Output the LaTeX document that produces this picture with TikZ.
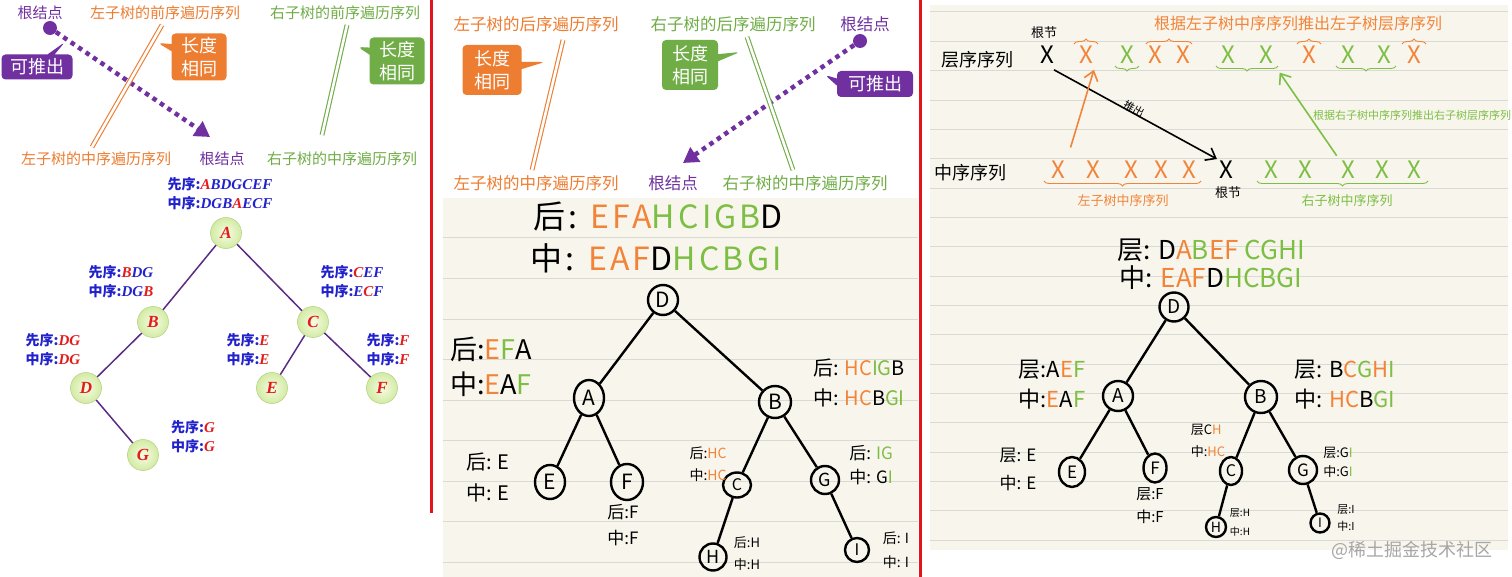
\documentclass[tikz,border=0pt]{standalone}
\usepackage{fontspec}
\setmainfont{Noto Sans CJK SC}
\newfontfamily\serifbi{Liberation Serif}
\newfontfamily\spreadfont[LetterSpace=10]{Noto Sans CJK SC}
\usepackage{xcolor}
\usepackage{tikz}
\usetikzlibrary{arrows.meta,calc,decorations.pathreplacing,shapes.geometric,shapes.callouts,positioning}

\definecolor{pptorange}{HTML}{ED7D31}
\definecolor{pptgreen}{HTML}{70AD47}
\definecolor{pptpurple}{HTML}{7030A0}
\definecolor{lblue}{HTML}{2222CC}
\definecolor{lred}{HTML}{E31B1B}
\definecolor{ledge}{HTML}{5B2C83}
\definecolor{lnodein}{HTML}{F6FCE4}
\definecolor{lnodeout}{HTML}{D3EBA4}
\definecolor{lnodeline}{HTML}{B9D58A}
\definecolor{handorange}{HTML}{F2843A}
\definecolor{handgreen}{HTML}{7DBE45}
\definecolor{paper}{HTML}{F8F6EC}
\definecolor{ruleline}{HTML}{DADAD4}
\definecolor{rulered}{HTML}{E3141C}

\newcommand{\fsz}[2]{\fontsize{#1}{#2}\selectfont}
\newcommand{\torg}[1]{\textcolor{handorange}{#1}}
\newcommand{\tgrn}[1]{\textcolor{handgreen}{#1}}
\newcommand{\tred}[1]{\textcolor{lred}{#1}}
\newcommand{\lett}[1]{{\serifbi\bfseries\itshape\fsz{15}{19}#1}}

\begin{document}
\begin{tikzpicture}[x=1pt, y=-1pt, >=Stealth,
  ptext/.style={inner sep=1, font=\fsz{15}{15}},
  mtext/.style={inner sep=1, font=\fsz{16.5}{16.5}},
  tagbox/.style={rectangle callout, rounded corners=4, text=white, align=center,
    inner sep=2, font=\fsz{18}{23}},
  pdots/.style={pptpurple, line width=4.5, dash pattern=on 4.5 off 4.5,
    -{Triangle[length=15,width=17]}},
  twoline/.style={double=white, double distance=2.6, line width=1.1},
  lnode/.style={circle, minimum size=31, inner sep=0, draw=lnodeline, line width=0.6,
    inner color=lnodein, outer color=lnodeout,
    font=\serifbi\bfseries\itshape\fsz{17}{17}, text=lred},
  ledgeline/.style={ledge, line width=1.5},
  tlab/.style={inner sep=0, align=center, text=lblue, font=\bfseries\fsz{14}{19}},
  hnode/.style={circle, draw=black, line width=2.4, inner sep=0, font=\fsz{21}{21}},
  hell/.style={ellipse, draw=black, line width=2.4, inner sep=0, font=\fsz{21}{21}},
  hedge/.style={black, line width=2.4},
  hlab/.style={inner sep=0, align=left},
  xmark/.style={inner sep=2, font=\fsz{24}{24}},
  obrace/.style={handorange, line width=0.9, decorate, decoration={brace, amplitude=5}},
  gbrace/.style={handgreen, line width=0.9, decorate, decoration={brace, amplitude=5}},
  harrow/.style={line width=1.6, -{Straight Barb[length=9,width=14]}}]

\useasboundingbox (0,0) rectangle (1512,577);
\fill[white] (0,0) rectangle (1512,577);

% =========================================================
% paper backgrounds and red dividers
% =========================================================
\fill[paper] (443,198) rectangle (918,577);
\foreach \k in {0,...,8}
  \draw[ruleline, line width=1] (443,{238+40.5*\k}) -- (918,{238+40.5*\k});
\fill[paper] (930,5) rectangle (1508,550);
\foreach \k in {0,...,18}
  \draw[ruleline, line width=1] (930,{12+29.35*\k}) -- (1508,{12+29.35*\k});
\draw[rulered, line width=3] (431,0) -- (431,513);
\draw[rulered, line width=3] (920,0) -- (920,577);

% =========================================================
% LEFT: preorder + inorder
% =========================================================
\node[ptext, text=pptpurple] (lrootA) at (40,13) {根结点};
\node[ptext, text=pptorange] (lpreL) at (165,13) {左子树的前序遍历序列};
\node[ptext, text=pptgreen] (lpreR) at (345,13) {右子树的前序遍历序列};
\node[ptext, text=pptorange] (linL) at (96,159) {左子树的中序遍历序列};
\node[ptext, text=pptpurple] (lrootB) at (222,159) {根结点};
\node[ptext, text=pptgreen] (linR) at (342,159) {右子树的中序遍历序列};

% root dot and dotted arrow
\node[circle, fill=pptpurple, minimum size=14, inner sep=0] (ldot) at (50,28) {};
\coordinate (ltip) at (210,137);
\draw[pdots] (ldot) -- (ltip);

% equal length marks
\coordinate (lLtop) at (162,25);
\coordinate (lLbot) at (92,147);
\coordinate (lRtop) at (347,25);
\coordinate (lRbot) at (322,135);
\draw[pptorange, twoline] (lLtop) -- (lLbot);
\draw[pptgreen, twoline] (lRtop) -- (lRbot);

% callouts
\node[tagbox, fill=pptpurple, minimum width=71, minimum height=25,
  callout absolute pointer={(65,42)}] (lpush) at (37,67) {可推出};
\node[tagbox, fill=pptorange, minimum width=55, minimum height=47,
  callout absolute pointer={(158,43)}] (llenL) at (199,57) {长度\\相同};
\node[tagbox, fill=pptgreen, minimum width=55, minimum height=47,
  callout absolute pointer={(358,47)}] (llenR) at (397,61) {长度\\相同};

% tree
\node[lnode] (lA) at (226,233) {A};
\node[lnode] (lB) at (153,322) {B};
\node[lnode] (lC) at (313,322) {C};
\node[lnode] (lD) at (86,388) {D};
\node[lnode] (lE) at (272,388) {E};
\node[lnode] (lF) at (382,388) {F};
\node[lnode] (lG) at (143,455) {G};
\draw[ledgeline] (lA) -- (lB);
\draw[ledgeline] (lA) -- (lC);
\draw[ledgeline] (lB) -- (lD);
\draw[ledgeline] (lD) -- (lG);
\draw[ledgeline] (lC) -- (lE);
\draw[ledgeline] (lC) -- (lF);

\node[tlab] (ltA) at (220,193.5) {先序:\lett{\tred{A}BDGCEF}\\中序:\lett{DGB\tred{A}ECF}};
\node[tlab] (ltB) at (121,282) {先序:\lett{\tred{B}DG}\\中序:\lett{DG\tred{B}}};
\node[tlab] (ltC) at (352,282) {先序:\lett{\tred{C}EF}\\中序:\lett{E\tred{C}F}};
\node[tlab] (ltD) at (53,350) {先序:\lett{\tred{DG}}\\中序:\lett{\tred{DG}}};
\node[tlab] (ltE) at (248,350) {先序:\lett{\tred{E}}\\中序:\lett{\tred{E}}};
\node[tlab] (ltF) at (388,350) {先序:\lett{\tred{F}}\\中序:\lett{\tred{F}}};
\node[tlab] (ltG) at (193,437) {先序:\lett{\tred{G}}\\中序:\lett{\tred{G}}};

% =========================================================
% MIDDLE: postorder + inorder
% =========================================================
\node[mtext, text=pptorange] (mpostL) at (536,24) {左子树的后序遍历序列};
\node[mtext, text=pptgreen] (mpostR) at (733,24) {右子树的后序遍历序列};
\node[mtext, text=pptpurple] (mrootA) at (865,24) {根结点};
\node[mtext, text=pptorange] (minL) at (536,183) {左子树的中序遍历序列};
\node[mtext, text=pptpurple] (mrootB) at (673,183) {根结点};
\node[mtext, text=pptgreen] (minR) at (805,183) {右子树的中序遍历序列};

\node[circle, fill=pptpurple, minimum size=14, inner sep=0] (mdot) at (860,41) {};
\coordinate (mtip) at (683,163);
\draw[pdots] (mdot) -- (mtip);

\coordinate (mLtop) at (563,40);
\coordinate (mLbot) at (532,170);
\coordinate (mRtop) at (747,37);
\coordinate (mRbot) at (793,170);
\draw[pptorange, twoline] (mLtop) -- (mLbot);
\draw[pptgreen, twoline] (mRtop) -- (mRbot);

\node[tagbox, fill=pptorange, minimum width=59, minimum height=50,
  callout absolute pointer={(545,62)}] (mlenL) at (492,70) {长度\\相同};
\node[tagbox, fill=pptgreen, minimum width=56, minimum height=50,
  callout absolute pointer={(740,52)}] (mlenR) at (690,65) {长度\\相同};
\node[tagbox, fill=pptpurple, minimum width=76, minimum height=26,
  callout absolute pointer={(825,75)}] (mpush) at (875,84) {可推出};

% sequences
\node[hlab, font=\spreadfont\fsz{32}{32}] (mpost) at (658,217) {后: \torg{EFA}\tgrn{HCIGB}D};
\node[hlab, font=\spreadfont\fsz{32}{32}] (mmid) at (656,258) {中: \torg{EAF}D\tgrn{HCBGI}};

% tree
\node[hnode, minimum size=30] (mD) at (663,300) {D};
\node[hell, minimum width=30, minimum height=36] (mA) at (589,398) {A};
\node[hnode, minimum size=32] (mB) at (775,402) {B};
\node[hell, minimum width=30, minimum height=34] (mE) at (550,482) {E};
\node[hell, minimum width=32, minimum height=36] (mF) at (627,482) {F};
\node[hell, minimum width=28, minimum height=25, font=\fsz{16}{16}] (mC) at (737,485) {C};
\node[hnode, minimum size=28, font=\fsz{18}{18}] (mG) at (825,480) {G};
\node[hnode, minimum size=27, font=\fsz{18}{18}] (mH) at (713,557) {H};
\node[hnode, minimum size=24, font=\fsz{16}{16}] (mI) at (857,550) {I};
\draw[hedge] (mD) -- (mA);
\draw[hedge] (mD) -- (mB);
\draw[hedge] (mA) -- (mE);
\draw[hedge] (mA) -- (mF);
\draw[hedge] (mB) -- (mC);
\draw[hedge] (mB) -- (mG);
\draw[hedge] (mC) -- (mH);
\draw[hedge] (mG) -- (mI);

\node[hlab, font=\fsz{27}{35}] (mlA) at (491,367) {后:\torg{E}\tgrn{F}A\\中:\torg{E}A\tgrn{F}};
\node[hlab, font=\fsz{20}{30}] (mlB) at (859,383) {后: \torg{HC}\tgrn{IG}B\\中: \torg{HC}B\tgrn{GI}};
\node[hlab, font=\fsz{20}{31}] (mlE) at (488,477.5) {后: E\\中: E};
\node[hlab, font=\fsz{17}{26}] (mlF) at (623,525) {后:F\\中:F};
\node[hlab, font=\fsz{14}{22}] (mlC) at (708,464) {后:\torg{HC}\\中:\torg{HC}};
\node[hlab, font=\fsz{17}{24}] (mlG) at (871,465) {后: \tgrn{IG}\\中: G\tgrn{I}};
\node[hlab, font=\fsz{13}{22}] (mlH) at (747,554) {后:H\\中:H};
\node[hlab, font=\fsz{14}{24}] (mlI) at (896,550) {后: I\\中: I};

% =========================================================
% RIGHT: level order + inorder
% =========================================================
\node[hlab, font=\fsz{18}{18}] (rlev) at (977,60) {层序序列};
\node[hlab, font=\fsz{18}{18}] (rin) at (970,173) {中序序列};
\node[hlab, font=\fsz{13}{13}] (rrootA) at (1044,33) {根节};
\node[hlab, font=\fsz{16}{16}, text=handorange] (rtitleL) at (1298,23) {根据左子树中序序列推出左子树层序序列};
\node[hlab, font=\fsz{11}{11}, text=handgreen] (rtitleR) at (1412,115) {根据右子树中序序列推出右子树层序序列};

\foreach \nm/\x/\c in {l1/1047/black, l2/1086/handorange, l3/1127/handgreen,
    l4/1155/handorange, l5/1183/handorange, l6/1228/handgreen, l7/1266/handgreen,
    l8/1309/handorange, l9/1348/handgreen, l10/1384/handgreen, l11/1414/handorange}
  \node[xmark, text=\c] (\nm) at (\x,55) {X};
\foreach \nm/\x/\c in {i1/1058/handorange, i2/1093/handorange, i3/1131/handorange,
    i4/1161/handorange, i5/1189/handorange, i6/1226/black, i7/1271/handgreen,
    i8/1305/handgreen, i9/1348/handgreen, i10/1382/handgreen, i11/1414/handgreen}
  \node[xmark, text=\c] (\nm) at (\x,170) {X};

% braces
\draw[obrace] ([xshift=-3]l2.north west) -- ([xshift=3]l2.north east);
\draw[obrace] (l4.north west) -- (l5.north east);
\draw[obrace] ([xshift=-3]l8.north west) -- ([xshift=3]l8.north east);
\draw[obrace] ([xshift=-3]l11.north west) -- ([xshift=3]l11.north east);
\draw[gbrace] ([xshift=3]l3.south east) -- ([xshift=-3]l3.south west);
\draw[gbrace] ([xshift=3]l7.south east) -- ([xshift=-3]l6.south west);
\draw[gbrace] ([xshift=3]l10.south east) -- ([xshift=-3]l9.south west);
\draw[obrace] ([xshift=3]i5.south east) -- ([xshift=-5]i1.south west);
\draw[gbrace] ([xshift=5]i11.south east) -- ([xshift=-5]i7.south west);

\node[hlab, font=\fsz{13}{13}, text=handorange] (rinL) at (1123,201) {左子树中序序列};
\node[hlab, font=\fsz{13}{13}] (rrootB) at (1228,193) {根节};
\node[hlab, font=\fsz{13}{13}, text=handgreen] (rinR) at (1347,201) {右子树中序序列};

% arrows
\draw[harrow, shorten <=8] (l1.south) -- (i6.north west)
  node[pos=0.5, above=5, sloped, font=\fsz{11}{11}] (rpush) {推出};
\draw[harrow, handorange, shorten <=12, shorten >=4] (i1.north east) -- (l2.south east);
\draw[harrow, handgreen, shorten <=4, shorten >=8] (i9.north west) -- (l7.south east);

% tree
\node[hlab, font=\fsz{26}{26}] (rtop1) at (1211,250) {层: D\torg{A}\tgrn{B}\torg{EF} \tgrn{CGHI}};
\node[hlab, font=\fsz{26}{26}] (rtop2) at (1211,278) {中: \torg{EAF}D\tgrn{HCBGI}};

\node[hnode, minimum size=29, font=\fsz{19}{19}] (rD) at (1174,307) {D};
\node[hnode, minimum size=30, font=\fsz{19}{19}] (rA) at (1118,396) {A};
\node[hnode, minimum size=32, font=\fsz{19}{19}] (rB) at (1261,397) {B};
\node[hell, minimum width=26, minimum height=30, font=\fsz{17}{17}] (rE) at (1072,472) {E};
\node[hell, minimum width=23, minimum height=29, font=\fsz{17}{17}] (rF) at (1155,468) {F};
\node[hell, minimum width=22, minimum height=28, font=\fsz{16}{16}] (rC) at (1231,471) {C};
\node[hnode, minimum size=28, font=\fsz{17}{17}] (rG) at (1303,470) {G};
\node[hnode, minimum size=20, font=\fsz{14}{14}] (rH) at (1216,527) {H};
\node[hnode, minimum size=19, font=\fsz{13}{13}] (rI) at (1320,523) {I};
\draw[hedge] (rD) -- (rA);
\draw[hedge] (rD) -- (rB);
\draw[hedge] (rA) -- (rE);
\draw[hedge] (rA) -- (rF);
\draw[hedge] (rB) -- (rC);
\draw[hedge] (rB) -- (rG);
\draw[hedge] (rC) -- (rH);
\draw[hedge] (rG) -- (rI);

\node[hlab, font=\fsz{22}{30}] (rlA) at (1052,385) {层:A\torg{E}\tgrn{F}\\中:\torg{E}A\tgrn{F}};
\node[hlab, font=\fsz{22}{30}] (rlB) at (1345,385) {层: B\torg{C}\tgrn{G}\torg{H}\tgrn{I}\\中: \torg{HC}B\tgrn{GI}};
\node[hlab, font=\fsz{17}{28}] (rlE) at (1018,469) {层: E\\中: E};
\node[hlab, font=\fsz{15}{23}] (rlF) at (1150,506) {层:F\\中:F};
\node[hlab, font=\fsz{13}{22}] (rlC) at (1208,441) {层C\torg{H}\\中:\torg{HC}};
\node[hlab, font=\fsz{13}{19}] (rlG) at (1338,462) {层:G\tgrn{I}\\中:G\tgrn{I}};
\node[hlab, font=\fsz{10}{19}] (rlH) at (1240,522) {层:H\\中:H};
\node[hlab, font=\fsz{11}{17}] (rlI) at (1346,518) {层:I\\中:I};

\node[hlab, font=\fsz{18}{18}, text=black!35] (mark) at (1412,550) {@稀土掘金技术社区};

\end{tikzpicture}
\end{document}
